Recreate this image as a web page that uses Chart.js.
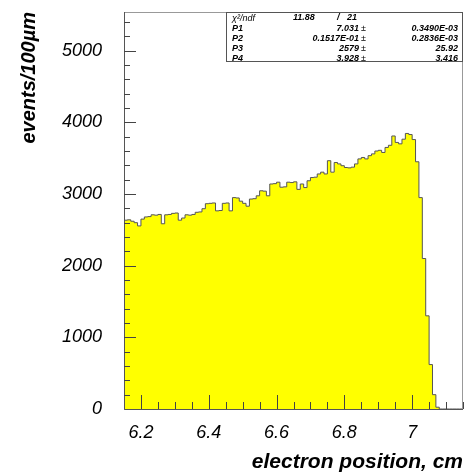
<!DOCTYPE html>
<html>
<head>
<meta charset="utf-8">
<script src="https://cdn.jsdelivr.net/npm/chart.js@4.4.1/dist/chart.umd.min.js"></script>
<style>
  html, body { margin: 0; padding: 0; background: #fff; }
  #wrap { width: 465px; height: 475px; }
</style>
</head>
<body>
<div id="wrap"><canvas id="chart" width="465" height="475"></canvas></div>
<script>
// histogramme : 100 bins de 100 um entre 6.15 et 7.15 cm
const binLow = 6.15
const binWidth = 0.01
const counts = [
  2635, 2640, 2620, 2600, 2555, 2650, 2680, 2685, 2710, 2705,
  2715, 2585, 2710, 2715, 2730, 2735, 2635, 2665, 2710, 2705,
  2715, 2745, 2750, 2795, 2865, 2870, 2875, 2765, 2770, 2870,
  2875, 2765, 2950, 2945, 2900, 2870, 2830, 2930, 2935, 2975,
  3045, 3040, 2975, 3140, 3145, 3165, 3095, 3100, 3165, 3160,
  3170, 3065, 3140, 3090, 3185, 3230, 3235, 3280, 3305, 3280,
  3465, 3305, 3440, 3420, 3395, 3370, 3365, 3375, 3420, 3490,
  3510, 3490, 3535, 3560, 3600, 3610, 3580, 3650, 3680, 3810,
  3720, 3700, 3765, 3845, 3830, 3760, 3450, 2950, 2100, 1300,
  620, 200, 25, 0, 0, 0, 0, 0, 0, 0,
]
const xRange = [6.15, 7.15]
const yRange = [0, 5540]
const xTicks = [6.2, 6.4, 6.6, 6.8, 7]
const yTicks = [0, 1000, 2000, 3000, 4000, 5000]

// boite de stats du fit
const chi2Text = ["11.88", "/", "21"]
const statNames = ["P1", "P2", "P3", "P4"]
const statValues = ["7.031", "0.1517E-01", "2579", "3.928"]
const statErrors = ["0.3490E-03", "0.2836E-03", "25.92", "3.416"]

// points aux bords gauches des bins + bord droit final
const points = counts.map((c, i) => ({ x: binLow + i * binWidth, y: c }))
points.push({ x: binLow + counts.length * binWidth, y: counts[counts.length - 1] })

const FONT = "'Liberation Sans', Arial, sans-serif"

const frameAndTicks = {
  id: "frameAndTicks",
  afterDatasetsDraw(chart) {
    const { ctx, chartArea: a, scales: { x, y } } = chart
    ctx.save()
    ctx.lineWidth = 1

    // cadre
    ctx.strokeStyle = "#999"
    ctx.strokeRect(a.left + 0.5, a.top + 0.5, a.right - a.left - 1, a.bottom - a.top)
    ctx.strokeStyle = "#555"
    ctx.beginPath()
    ctx.moveTo(a.left + 0.5, a.top)
    ctx.lineTo(a.left + 0.5, a.bottom + 0.5)
    ctx.lineTo(a.right, a.bottom + 0.5)
    ctx.stroke()

    // graduations vers l'interieur
    ctx.strokeStyle = "#444"
    ctx.beginPath()
    for (let k = 1; k <= 20; k++) {
      const v = xRange[0] + k * 0.05
      const major = Math.abs(v / 0.2 - Math.round(v / 0.2)) < 1e-6
      const px = Math.round(x.getPixelForValue(v)) + 0.5
      ctx.moveTo(px, a.bottom)
      ctx.lineTo(px, a.bottom - (major ? 14 : 7))
    }
    for (let v = 200; v <= yRange[1]; v += 200) {
      const major = v % 1000 === 0
      const py = Math.round(y.getPixelForValue(v)) + 0.5
      ctx.moveTo(a.left, py)
      ctx.lineTo(a.left + (major ? 12 : 6), py)
    }
    ctx.stroke()
    ctx.restore()
  },
  afterDraw(chart) {
    const { ctx } = chart
    const bx = 226, by = 12, bw = 237, bh = 50
    ctx.save()
    ctx.fillStyle = "#fff"
    ctx.fillRect(bx, by, bw, bh)
    ctx.strokeStyle = "#555"
    ctx.lineWidth = 1
    ctx.strokeRect(bx + 0.5, by + 0.5, bw - 1, bh - 1)
    ctx.textBaseline = "middle"
    ctx.fillStyle = "#000"

    const rowY = (i) => by + 6 + i * 10.2
    ctx.font = "italic 9px " + FONT
    ctx.textAlign = "left"
    ctx.fillText("\u03c7\u00b2/ndf", 232, rowY(0))
    ctx.font = "italic bold 9px " + FONT
    ctx.fillText(chi2Text[0], 293, rowY(0))
    ctx.fillText(chi2Text[1], 337, rowY(0))
    ctx.fillText(chi2Text[2], 347, rowY(0))

    statNames.forEach((name, i) => {
      const yy = rowY(i + 1)
      ctx.textAlign = "left"
      ctx.fillText(name, 232, yy)
      ctx.textAlign = "right"
      ctx.fillText(statValues[i], 359, yy)
      ctx.fillText(statErrors[i], 458, yy)
      ctx.textAlign = "left"
      ctx.font = "9px " + FONT
      ctx.fillText("\u00b1", 361, yy)
      ctx.font = "italic bold 9px " + FONT
    })
    ctx.restore()
  },
}

new Chart(document.getElementById("chart"), {
  type: "line",
  data: {
    datasets: [
      {
        data: points,
        stepped: true,
        borderColor: "#555",
        borderWidth: 1,
        backgroundColor: "#ffff00",
        fill: "origin",
        pointRadius: 0,
        tension: 0,
      },
    ],
  },
  options: {
    responsive: false,
    animation: false,
    events: [],
    layout: { padding: { left: 0, top: 12, right: 2, bottom: 0 } },
    plugins: {
      legend: { display: false },
      tooltip: { enabled: false },
    },
    scales: {
      x: {
        type: "linear",
        min: xRange[0],
        max: xRange[1],
        afterBuildTicks: (scale) => {
          scale.ticks = xTicks.map((v) => ({ value: v }))
        },
        afterFit: (scale) => {
          scale.height = 66
          scale.paddingLeft = 0
          scale.paddingRight = 0
        },
        grid: { display: false, drawTicks: false },
        border: { display: false },
        ticks: {
          padding: 13,
          color: "#000",
          maxRotation: 0,
          autoSkip: false,
          font: { family: FONT, size: 18, style: "italic" },
          callback: (v) => String(v),
        },
        title: {
          display: true,
          text: "electron position, cm",
          align: "end",
          color: "#000",
          padding: { top: 0, bottom: 0 },
          font: { family: FONT, size: 21, style: "italic", weight: "bold" },
        },
      },
      y: {
        min: yRange[0],
        max: yRange[1],
        afterBuildTicks: (scale) => {
          scale.ticks = yTicks.map((v) => ({ value: v }))
        },
        afterFit: (scale) => {
          scale.width = 124
          scale.paddingTop = 0
          scale.paddingBottom = 0
        },
        grid: { display: false, drawTicks: false },
        border: { display: false },
        ticks: {
          padding: 22,
          color: "#000",
          autoSkip: false,
          font: { family: FONT, size: 18, style: "italic" },
          callback: (v) => String(v),
        },
        title: {
          display: true,
          text: "events/100\u00b5m",
          align: "end",
          color: "#000",
          padding: { top: 17, bottom: 0 },
          font: { family: FONT, size: 20, style: "italic", weight: "bold" },
        },
      },
    },
  },
  plugins: [frameAndTicks],
})
</script>
</body>
</html>
